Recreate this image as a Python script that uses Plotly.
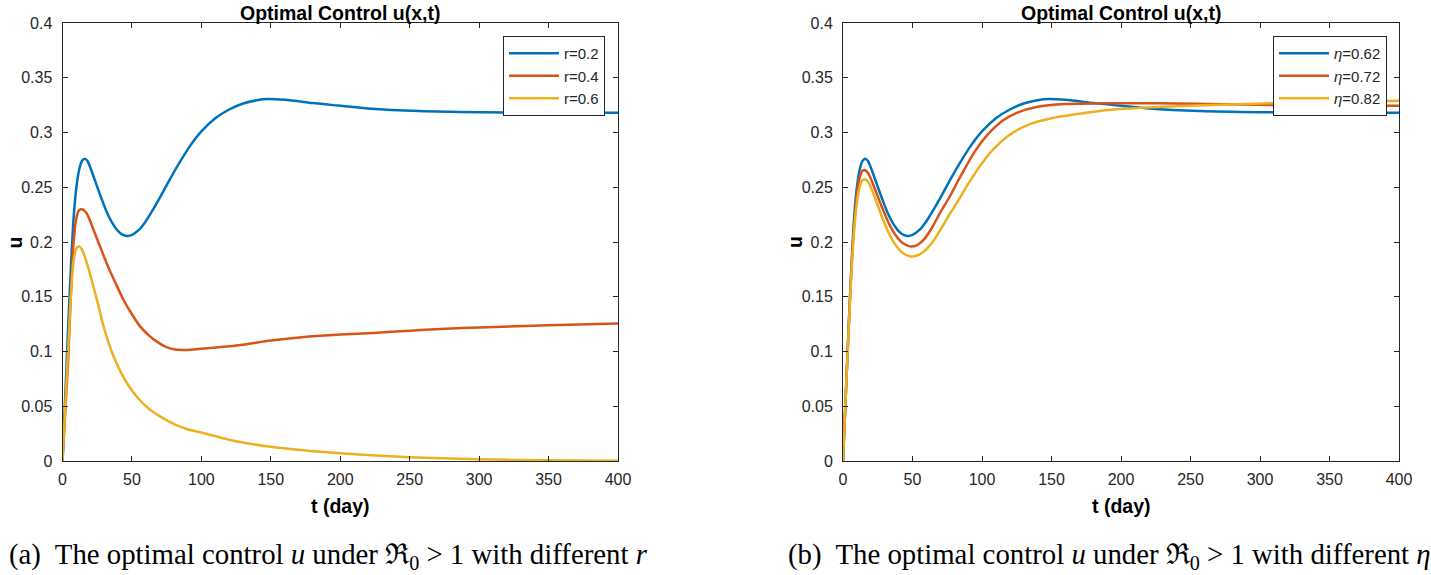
import plotly.graph_objects as go

# ---------------- data ----------------
t_r02 = [0, 2, 4, 6, 8, 10, 12, 14, 16, 18, 20, 24, 28, 32, 36, 40, 44, 47, 50, 55, 60,
         69, 77, 85, 92, 100, 110, 120, 130, 140, 148, 160, 180, 195, 220, 257, 300, 350, 400]
u_r02 = [0, 0.06, 0.12, 0.175, 0.222, 0.25, 0.266, 0.274, 0.276, 0.274, 0.268, 0.254,
         0.24, 0.227, 0.217, 0.21, 0.2062, 0.2055, 0.2065, 0.211, 0.219, 0.238, 0.2566,
         0.274, 0.288, 0.301, 0.313, 0.321, 0.3265, 0.3295, 0.3305, 0.3298, 0.327, 0.325,
         0.322, 0.3196, 0.3185, 0.318, 0.318]

t_r04 = [0, 2, 4, 6, 8, 10, 12, 14, 17, 20, 23, 27, 32, 38, 44, 50, 56, 62, 68, 74, 81,
         88, 100, 128, 150, 176, 200, 224, 250, 272, 300, 350, 400]
u_r04 = [0, 0.045, 0.09, 0.15, 0.2, 0.222, 0.229, 0.23, 0.227, 0.219, 0.209, 0.196, 0.18,
         0.163, 0.147, 0.134, 0.1227, 0.115, 0.109, 0.1045, 0.1018, 0.1014, 0.1025, 0.106,
         0.11, 0.1135, 0.1155, 0.117, 0.119, 0.1205, 0.122, 0.124, 0.1256]

t_r06 = [0, 2, 4, 6, 8, 10, 12, 14, 17, 20, 25, 30, 36, 42, 48, 54, 62, 70, 80, 90, 100,
         125, 150, 175, 200, 250, 300, 350, 400]
u_r06 = [0, 0.05, 0.1, 0.15, 0.183, 0.194, 0.196, 0.193, 0.183, 0.17, 0.146, 0.121, 0.098,
         0.081, 0.068, 0.058, 0.048, 0.041, 0.034, 0.029, 0.026, 0.018, 0.013, 0.0095,
         0.007, 0.0034, 0.0015, 0.0007, 0.0003]

t_eta062 = t_r02
u_eta062 = u_r02

t_eta072 = [0, 2, 4, 6, 8, 10, 12, 14, 16, 18, 20, 24, 28, 33, 38, 43, 48, 53, 58, 64, 70,
            77, 85, 95, 104, 115, 125, 140, 160, 193, 253, 312, 400]
u_eta072 = [0, 0.06, 0.12, 0.175, 0.215, 0.243, 0.259, 0.265, 0.2655, 0.263, 0.258, 0.245,
            0.232, 0.217, 0.206, 0.199, 0.196, 0.197, 0.202, 0.213, 0.227, 0.242, 0.261,
            0.283, 0.298, 0.311, 0.318, 0.3235, 0.326, 0.3268, 0.3262, 0.325, 0.3244]

t_eta082 = [0, 2, 4, 6, 8, 10, 12, 14, 16, 18, 20, 24, 28, 33, 38, 43, 48, 53, 58, 64, 70,
            77, 83, 90, 100, 110, 120, 134, 150, 164, 193, 223, 253, 312, 360, 400]
u_eta082 = [0, 0.06, 0.118, 0.17, 0.21, 0.236, 0.25, 0.2565, 0.257, 0.255, 0.25, 0.237,
            0.223, 0.208, 0.197, 0.19, 0.187, 0.1875, 0.191, 0.199, 0.211, 0.226, 0.238,
            0.253, 0.272, 0.287, 0.298, 0.3075, 0.313, 0.316, 0.3207, 0.323, 0.3247, 0.3268,
            0.328, 0.329]

names_left = ["r=0.2", "r=0.4", "r=0.6"]
names_right = ["<i>η</i>=0.62", "<i>η</i>=0.72", "<i>η</i>=0.82"]
x_ticks = [0, 50, 100, 150, 200, 250, 300, 350, 400]
y_ticks = [0, 0.05, 0.1, 0.15, 0.2, 0.25, 0.3, 0.35, 0.4]
title_text = "Optimal Control u(x,t)"
xlabel = "t (day)"
ylabel = "u"
caption_a = "(a)  The optimal control <i>u</i> under ℜ<sub>0</sub> &gt; 1 with different <i>r</i>"
caption_b = "(b)  The optimal control <i>u</i> under ℜ<sub>0</sub> &gt; 1 with different <i>η</i>"

colors = ["#0072BD", "#D95319", "#EDB120"]

# ---------------- figure ----------------
W, H = 1431, 575
fig = go.Figure()

left_series = [(t_r02, u_r02), (t_r04, u_r04), (t_r06, u_r06)]
right_series = [(t_eta062, u_eta062), (t_eta072, u_eta072), (t_eta082, u_eta082)]

for (tt, uu), nm, c in zip(left_series, names_left, colors):
    fig.add_trace(go.Scatter(x=tt, y=uu, mode="lines", name=nm,
                             line=dict(color=c, width=2.5, shape="spline", smoothing=0.8),
                             xaxis="x", yaxis="y", legend="legend"))
for (tt, uu), nm, c in zip(right_series, names_right, colors):
    fig.add_trace(go.Scatter(x=tt, y=uu, mode="lines", name=nm,
                             line=dict(color=c, width=2.5, shape="spline", smoothing=0.8),
                             xaxis="x2", yaxis="y2", legend="legend2"))

# axes geometry (pixels -> paper)
xl = (62.5 / W, 618 / W)
xr = (843 / W, 1399 / W)
yd = (1 - 461 / H, 1 - 23 / H)

tickfont = dict(family="Liberation Sans, Arial, sans-serif", size=16, color="#262626")
axis_common = dict(showline=True, linecolor="#262626", linewidth=1, mirror="ticks",
                   ticks="inside", ticklen=5, tickcolor="#262626", showgrid=False,
                   zeroline=False, tickfont=tickfont, automargin=False)

legfont = dict(family="Liberation Sans, Arial, sans-serif", size=15, color="#262626")
fig.update_layout(
    template="none",
    width=W, height=H,
    margin=dict(l=0, r=0, t=0, b=0, pad=0),
    paper_bgcolor="white", plot_bgcolor="white",
    xaxis=dict(domain=xl, range=[0, 400], tickvals=x_ticks, anchor="y",
               ticklabelstandoff=4, **axis_common),
    yaxis=dict(domain=yd, range=[0, 0.4], tickvals=y_ticks, anchor="x",
               ticklabelstandoff=6, **axis_common),
    xaxis2=dict(domain=xr, range=[0, 400], tickvals=x_ticks, anchor="y2",
                ticklabelstandoff=4, **axis_common),
    yaxis2=dict(domain=yd, range=[0, 0.4], tickvals=y_ticks, anchor="x2",
                ticklabelstandoff=6, **axis_common),
    legend=dict(x=605 / W, xanchor="right", y=1 - 36 / H, yanchor="top",
                bgcolor="white", bordercolor="#262626", borderwidth=1,
                font=legfont, tracegroupgap=0, itemwidth=50),
    legend2=dict(x=1387 / W, xanchor="right", y=1 - 36 / H, yanchor="top",
                 bgcolor="white", bordercolor="#262626", borderwidth=1,
                 font=legfont, tracegroupgap=0, itemwidth=50),
    showlegend=True,
)

bold_font = dict(family="Liberation Sans, Arial, sans-serif", size=19.5, color="black")
ann = []
for (x0, x1) in (xl, xr):
    xc = (x0 + x1) / 2
    ann.append(dict(text="<b>" + title_text + "</b>", x=xc, y=1, xref="paper",
                    yref="paper", showarrow=False, font=bold_font, xanchor="center",
                    yanchor="top"))
    ann.append(dict(text="<b>" + xlabel + "</b>", x=xc, y=1 - 506 / H, xref="paper",
                    yref="paper", showarrow=False, font=bold_font, xanchor="center",
                    yanchor="middle"))
    ann.append(dict(text="<b>" + ylabel + "</b>", x=x0 - 48 / W, y=1 - 242 / H,
                    xref="paper", yref="paper", showarrow=False, font=bold_font,
                    textangle=-90, xanchor="center", yanchor="middle"))

cap_font = dict(family="Liberation Serif, Times New Roman, serif", size=28.8, color="black")
ann.append(dict(text=caption_a, x=328 / W, y=1 - 556 / H, xref="paper", yref="paper",
                showarrow=False, font=cap_font, xanchor="center", yanchor="middle"))
ann.append(dict(text=caption_b, x=1109 / W, y=1 - 556 / H, xref="paper", yref="paper",
                showarrow=False, font=cap_font, xanchor="center", yanchor="middle"))
fig.update_layout(annotations=ann)

# remove the default page margin so the figure sits at the window's top-left corner
fig.write_html("out.html",
               config={"displayModeBar": False},
               post_script="document.body.style.margin='0';"
                           "document.body.style.overflow='hidden';")
